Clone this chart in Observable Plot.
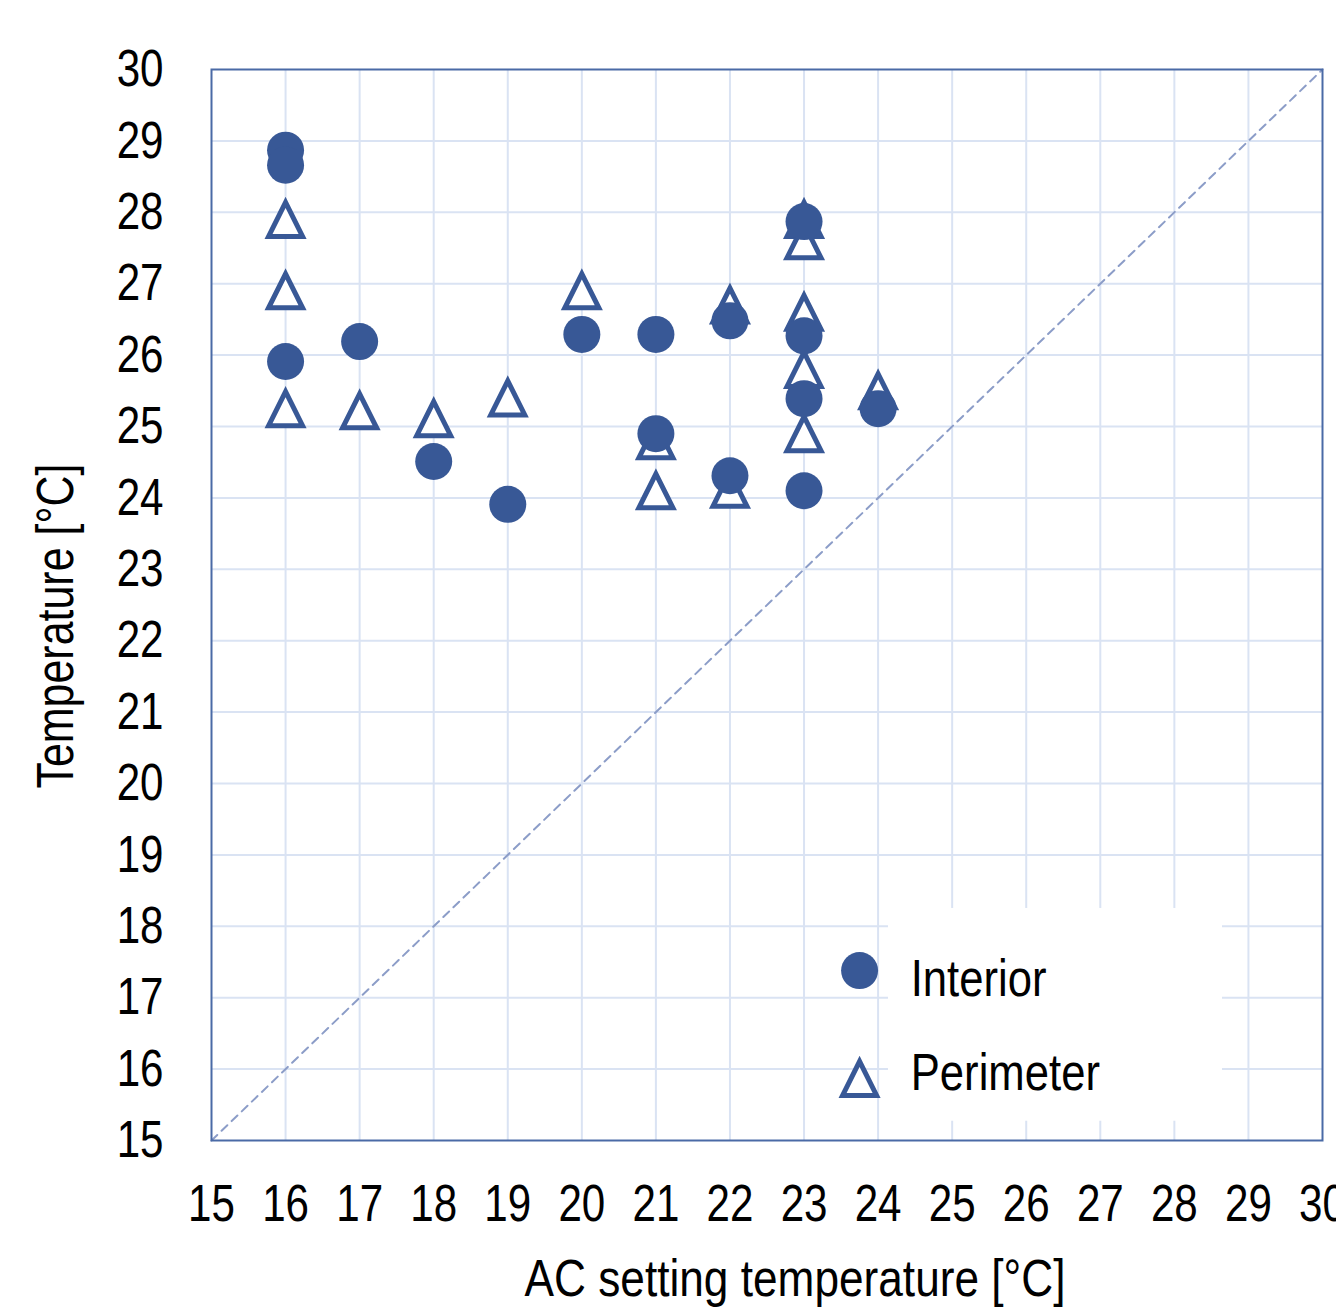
<!DOCTYPE html>
<html>
<head>
<meta charset="utf-8">
<script src="https://cdn.jsdelivr.net/npm/d3@7"></script>
<script src="https://cdn.jsdelivr.net/npm/@observablehq/plot@0.6"></script>
<style>
  html, body { margin: 0; padding: 0; background: #fff; overflow: hidden; }
  #chart { width: 1336px; height: 1312px; }
</style>
</head>
<body>
<div id="chart"></div>
<script>
// ---- data ----
const interiorX = [16, 16, 16, 17, 18, 19, 20, 21, 21, 22, 22, 23, 23, 23, 23, 24];
const interiorY = [28.87, 28.66, 25.91, 26.19, 24.51, 23.91, 26.29, 26.29, 24.9, 26.48, 24.31, 27.87, 26.27, 25.39, 24.1, 25.25];
const perimeterX = [16, 16, 16, 17, 18, 19, 20, 21, 21, 22, 22, 23, 23, 23, 23, 23, 24];
const perimeterY = [27.9, 26.9, 25.25, 25.22, 25.11, 25.4, 26.9, 24.8, 24.1, 26.7, 24.12, 27.9, 27.6, 26.6, 25.8, 24.9, 25.5];
const axisTicks = [15, 16, 17, 18, 19, 20, 21, 22, 23, 24, 25, 26, 27, 28, 29, 30];
const gridTicks = [16, 17, 18, 19, 20, 21, 22, 23, 24, 25, 26, 27, 28, 29];
const diagonal = [15, 30];
const seriesNames = ["Interior", "Perimeter"];
const xTitle = "AC setting temperature [°C]";
const yTitle = "Temperature [°C]";
// legend placement in data units
const legendBox = {x1: 24.14, x2: 28.65, y1: 15.27, y2: 18.25};
const legendMarkX = [23.75, 23.75];
const legendMarkY = [17.38, 15.87];
const legendTextX = [24.44, 24.44];
const legendTextY = [17.25, 15.94];

// ---- styles ----
const markerColor = "#385896";
const gridColor = "#dae3f3";
const frameColor = "#4a6aa6";
const diagColor = "#8c9dc8";

const interior = interiorX.map((x, i) => ({x, y: interiorY[i]}));
const perimeter = perimeterX.map((x, i) => ({x, y: perimeterY[i]}));
const diag = diagonal.map(v => ({x: v, y: v}));
const legend = seriesNames.map((name, i) => ({name, mx: legendMarkX[i], my: legendMarkY[i], tx: legendTextX[i], ty: legendTextY[i]}));

// triangle symbol with equal width and height
const boxTriangle = {
  draw(context, size) {
    const r = Math.sqrt(size / Math.PI);
    context.moveTo(0, -r);
    context.lineTo(r, r);
    context.lineTo(-r, r);
    context.closePath();
  }
};

const fontFamily = "'Liberation Sans', Arial, sans-serif";

const chart = Plot.plot({
  width: 1336,
  height: 1312,
  marginLeft: 211,
  marginTop: 69,
  marginRight: 14,
  marginBottom: 172,
  style: {fontFamily, fontSize: "52px", color: "#000", background: "#fff"},
  x: {domain: [15, 30]},
  y: {domain: [15, 30]},
  marks: [
    Plot.gridX(gridTicks, {stroke: gridColor, strokeOpacity: 1, strokeWidth: 2}),
    Plot.gridY(gridTicks, {stroke: gridColor, strokeOpacity: 1, strokeWidth: 2}),
    Plot.line(diag, {x: "x", y: "y", stroke: diagColor, strokeWidth: 2, strokeDasharray: "8,6"}),
    Plot.rect([legendBox], {x1: "x1", x2: "x2", y1: "y1", y2: "y2", fill: "#fff"}),
    Plot.frame({stroke: frameColor, strokeWidth: 2}),
    Plot.axisX(axisTicks, {tickSize: 0, tickPadding: 44, label: null, fontSize: 52, tickFormat: d => String(d)}),
    Plot.axisY(axisTicks, {tickSize: 0, tickPadding: 48, label: null, fontSize: 52, tickFormat: d => String(d)}),
    Plot.dot(perimeter, {x: "x", y: "y", symbol: boxTriangle, r: 17, stroke: markerColor, strokeWidth: 5, fill: "#fff", strokeLinejoin: "miter"}),
    Plot.dot(interior, {x: "x", y: "y", symbol: "circle", r: 18.5, fill: markerColor, stroke: "none"}),
    Plot.dot(legend.slice(0, 1), {x: "mx", y: "my", symbol: "circle", r: 18.5, fill: markerColor}),
    Plot.dot(legend.slice(1), {x: "mx", y: "my", symbol: boxTriangle, r: 17, stroke: markerColor, strokeWidth: 5, fill: "#fff"}),
    Plot.text(legend, {x: "tx", y: "ty", text: "name", textAnchor: "start", fontSize: 52, fill: "#000"}),
    Plot.text([xTitle], {frameAnchor: "bottom", textAnchor: "middle", dx: 28, dy: 155, fontSize: 52, fill: "#000"}),
    Plot.text([yTitle], {frameAnchor: "left", textAnchor: "middle", rotate: -90, dx: -155, dy: 21, fontSize: 52, fill: "#000"})
  ]
});
document.getElementById("chart").appendChild(chart);

// condense text horizontally (narrow face look), keeping each anchor fixed
function condenseNodes(nodes, s) {
  nodes.forEach(t => {
    const tr = t.getAttribute("transform") || "";
    const x = +t.getAttribute("x") || 0;
    const y = +t.getAttribute("y") || 0;
    t.setAttribute("transform", `${tr} translate(${x},${y}) scale(${s},1) translate(${-x},${-y})`);
  });
}
condenseNodes(chart.querySelectorAll('g[aria-label="x-axis tick label"] text'), 0.81);
condenseNodes(chart.querySelectorAll('g[aria-label="y-axis tick label"] text'), 0.81);
const textGroups = chart.querySelectorAll('g[aria-label="text"]');
const textScales = [0.84, 0.85, 0.826]; // legend, x title, y title
textGroups.forEach((g, i) => condenseNodes(g.querySelectorAll("text"), textScales[i] ?? 0.84));
</script>
</body>
</html>
